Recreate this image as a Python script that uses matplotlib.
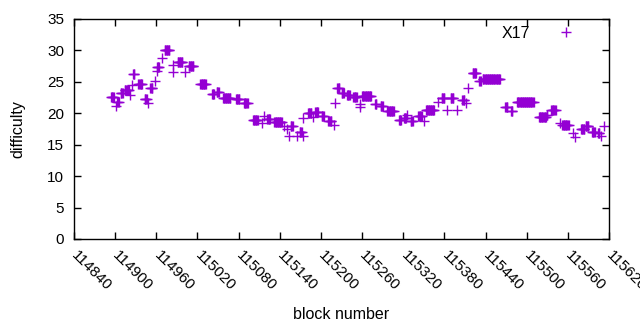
import numpy as np
import matplotlib
matplotlib.use("Agg")
import matplotlib.pyplot as plt

plt.rcParams['font.family'] = ['Liberation Sans', 'DejaVu Sans']

# runs of consecutive blocks sharing one difficulty value (start, end, value)
seg_start = [114894, 114901, 114903, 114908, 114914, 114922, 114925, 114926, 114934, 114943,
             114948, 114951, 114958, 114961, 114961, 114969, 114972, 114984, 114985, 114991,
             115002, 115007, 115024, 115041, 115048, 115057, 115076, 115088, 115101, 115114,
             115117, 115122, 115132, 115146, 115151, 115154, 115156, 115165, 115169, 115174,
             115174, 115181, 115189, 115192, 115201, 115211, 115219, 115221, 115224, 115230,
             115238, 115247, 115257, 115257, 115260, 115279, 115287, 115297, 115314, 115321,
             115326, 115331, 115342, 115350, 115353, 115370, 115376, 115384, 115389, 115398,
             115406, 115411, 115415, 115421, 115431, 115436, 115469, 115477, 115486, 115490,
             115518, 115529, 115536, 115548, 115552, 115568, 115570, 115579, 115586, 115595,
             115604, 115609, 115613]
seg_end = [114898, 114901, 114905, 114911, 114920, 114922, 114925, 114928, 114939, 114946,
           114948, 114954, 114958, 114961, 114964, 114969, 114979, 114984, 114985, 114998,
           115002, 115014, 115032, 115044, 115051, 115068, 115081, 115093, 115108, 115114,
           115117, 115126, 115143, 115146, 115151, 115154, 115159, 115165, 115172, 115174,
           115174, 115186, 115189, 115196, 115204, 115215, 115219, 115221, 115227, 115233,
           115242, 115252, 115257, 115257, 115273, 115281, 115290, 115306, 115317, 115324,
           115326, 115334, 115347, 115350, 115365, 115370, 115380, 115384, 115393, 115398,
           115409, 115411, 115415, 115426, 115433, 115461, 115472, 115479, 115489, 115510,
           115528, 115530, 115542, 115548, 115561, 115568, 115570, 115584, 115590, 115599,
           115606, 115609, 115613]
seg_value = [22.6, 21.2, 21.8, 23.3, 23.7, 22.9, 24.45, 26.25, 24.65, 22.3,
             21.7, 24.1, 25.2, 26.7, 27.4, 28.8, 30.07, 26.6, 27.7, 28.1,
             26.6, 27.6, 24.6, 23.0, 23.4, 22.4, 22.2, 21.6, 18.9, 18.4,
             19.5, 19.1, 18.6, 17.9, 17.45, 16.4, 17.9, 16.4, 17.1, 16.4,
             19.2, 20.0, 19.4, 20.25, 19.5, 18.8, 18.1, 21.6, 24.1, 23.3,
             22.9, 22.6, 21.4, 20.95, 22.75, 21.5, 21.1, 20.3, 18.9, 19.2,
             19.7, 18.7, 19.5, 18.7, 20.6, 21.8, 22.5, 20.6, 22.4, 20.6,
             22.1, 21.7, 24.1, 26.4, 25.1, 25.4, 20.95, 20.4, 21.8, 21.75,
             19.35, 19.7, 20.5, 18.4, 18.1, 16.8, 16.3, 17.5, 17.9, 17.1,
             16.8, 16.4, 17.9]

x_ticks = list(range(114840, 115621, 60))
y_ticks = [0, 5, 10, 15, 20, 25, 30, 35]

blocks = []
diffs = []
for s, e, v in zip(seg_start, seg_end, seg_value):
    for b in range(s, e + 1):
        blocks.append(b)
        diffs.append(v)

color = '#9400d3'
fig = plt.figure(figsize=(6.4, 3.3), dpi=100)
ax = fig.add_axes([74/640, 1 - 239/330, (609-74)/640, (239-19)/330])
ax.plot(blocks, diffs, linestyle='none', marker='+', markersize=6.5, markeredgewidth=1.0,
        color=color, label='X17')
ax.set_xlim(114840, 115620)
ax.set_ylim(0, 35)
ax.set_xticks(x_ticks)
ax.set_yticks(y_ticks)
ax.tick_params(direction='in', top=True, right=True, length=5, width=1, labelsize=11,
               colors='black')
ax.tick_params(axis='y', pad=7)
ax.tick_params(axis='x', pad=10)
for lbl in ax.get_xticklabels():
    lbl.set_rotation(-45)
    lbl.set_rotation_mode('anchor')
    lbl.set_ha('left')
    lbl.set_va('center')
for sp in ax.spines.values():
    sp.set_linewidth(1)
ax.set_xlabel('block number', fontsize=11.5, labelpad=10)
ax.set_ylabel('difficulty', fontsize=11.5, labelpad=16)
leg = ax.legend(loc='upper right', frameon=False, markerfirst=False, fontsize=11.5,
                handlelength=2.5, handletextpad=1.0, borderaxespad=0.3,
                bbox_to_anchor=(0.977, 1.02))
fig.savefig('out.png', dpi=100)
